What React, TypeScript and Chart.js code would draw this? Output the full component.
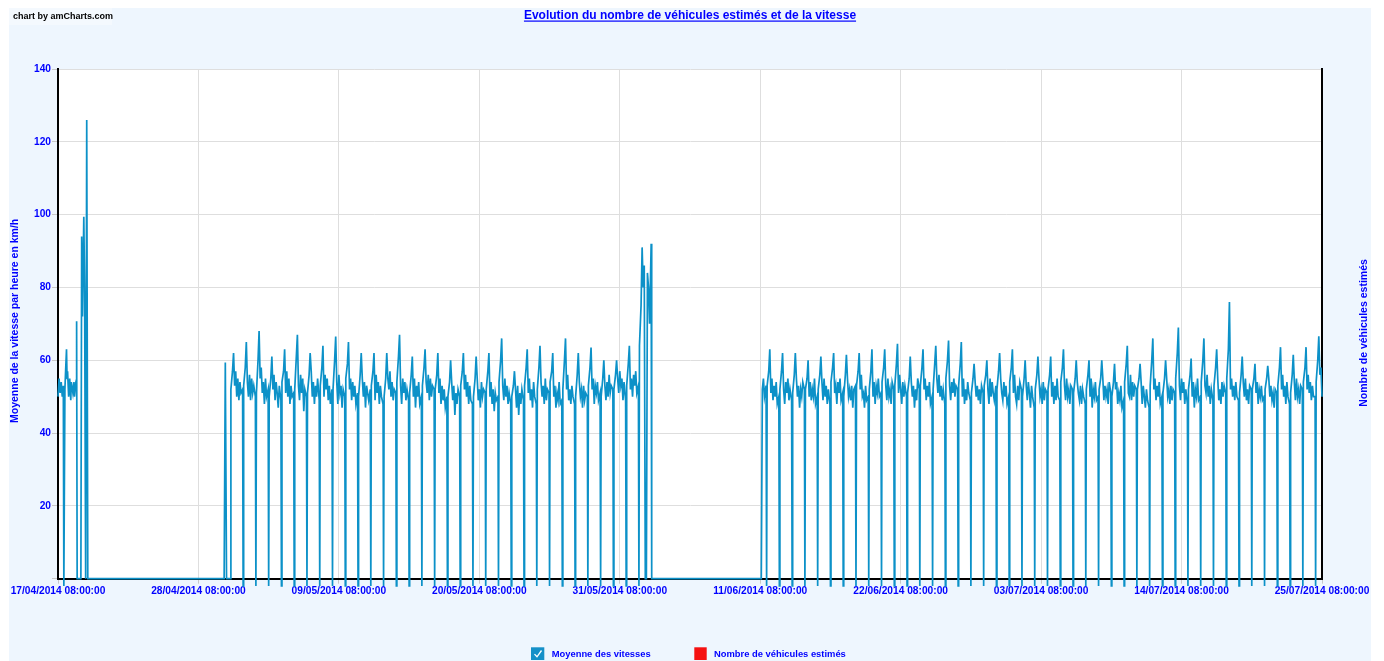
import React, { useEffect, useRef } from "react";
import { Chart, registerables } from "chart.js";

Chart.register(...registerables);

// ---------- DATA ----------
const chartTitle = "Evolution du nombre de véhicules estimés et de la vitesse";
const creditText = "chart by amCharts.com";
const leftAxisTitle = "Moyenne de la vitesse par heure en km/h";
const rightAxisTitle = "Nombre de véhicules estimés";
const seriesNames = ["Moyenne des vitesses", "Nombre de véhicules estimés"];

// x is hours since 17/04/2014 08:00:00
const xTickLabels = [
  "17/04/2014 08:00:00",
  "28/04/2014 08:00:00",
  "09/05/2014 08:00:00",
  "20/05/2014 08:00:00",
  "31/05/2014 08:00:00",
  "11/06/2014 08:00:00",
  "22/06/2014 08:00:00",
  "03/07/2014 08:00:00",
  "14/07/2014 08:00:00",
  "25/07/2014 08:00:00",
];
const xTickStepHours = 264;
const xMaxHours = 2376;
const yMax = 140;
const yStep = 20;

// first few days (irregular readings)
const seg1Hours = [0, 2, 4, 6, 8, 10, 11, 13, 14, 16, 17, 18, 20, 22, 24, 25, 28, 30, 31, 33, 34, 35, 36, 43, 44.5, 46, 48.5, 50, 52, 54, 56];
const seg1Speeds = [50, 55, 51, 54, 50, 53, -2, 52, 56, 63, 55, 57, 50, 55, 49, 54, 51, 54, 50, 53, 52, 70.7, 0, 0, 94, 72, 99.4, 80, 0, 126, 0];

// short spike before the second period
const seg2LeadHours = [312.3, 314.5, 316.8];
const seg2LeadSpeeds = [0, 59.4, 0];

// hour (from midnight-offset of each day index) of each reading in a day row
const dayOffsets = [12, 13, 16, 18, 20, 22, 24, 26, 28, 30, 32, 35];

const seg2FirstDay = 13;
const seg2Days = [
  [0, 52, 57, 62, 53, 57, 50, 55, 49, 54, 51, 52],
  [-2, 53, 58, 65, 54, 50, 56, 49, 55, 51, 53, 50],
  [-2, 51, 60, 68, 55, 58, 51, 54, 48, 55, 50, 52],
  [-2, 50, 55, 61, 52, 56, 49, 54, 51, 47, 53, 49],
  [-2, 54, 57, 63, 51, 57, 50, 55, 48, 53, 50, 51],
  [-2, 52, 61, 67, 53, 49, 56, 51, 55, 46, 52, 50],
  [-2, 51, 56, 62, 57, 50, 54, 48, 53, 50, 55, 49],
  [-2, 53, 58, 64, 50, 56, 52, 55, 49, 53, 48, 52],
  [-2, 52, 60, 66.5, 54, 48, 56, 51, 53, 47, 52, 50],
  [-2, 55, 59, 65, 52, 55, 49, 54, 50, 53, 48, 51],
  [-2, 50, 56, 62, 55, 50, 54, 47, 53, 51, 49, 52],
  [-2, 53, 57, 62, 49, 56, 51, 54, 48, 53, 50, 48],
  [-2, 50, 55, 62, 55, 52, 57, 50, 54, 49, 52, 51],
  [-2, 54, 61, 67, 53, 48, 55, 51, 54, 49, 52, 49],
  [-2, 51, 56, 61, 50, 55, 47, 53, 50, 54, 48, 50],
  [-2, 53, 58, 63, 54, 51, 56, 49, 55, 50, 53, 52],
  [-2, 52, 56, 62, 51, 55, 48, 53, 49, 52, 47, 50],
  [-2, 50, 54, 60, 54, 49, 53, 45, 51, 48, 52, 50],
  [-2, 53, 57, 62, 52, 56, 50, 54, 48, 53, 49, 48],
  [-2, 50, 55, 61, 55, 49, 52, 47, 54, 50, 52, 51],
  [-2, 52, 57, 62, 50, 54, 48, 52, 46, 51, 49, 50],
  [-2, 54, 60, 66, 53, 49, 55, 50, 53, 48, 51, 48],
  [-2, 50, 53, 57, 52, 47, 53, 45, 51, 48, 52, 49],
  [-2, 53, 58, 63, 51, 55, 49, 52, 47, 54, 50, 48],
  [-2, 52, 58, 64, 54, 50, 53, 48, 55, 49, 52, 51],
  [-2, 54, 57, 62, 50, 53, 47, 51, 49, 54, 48, 49],
  [-2, 52, 60, 66, 52, 56, 49, 52, 48, 53, 50, 48],
  [-2, 50, 56, 62, 54, 50, 52, 47, 53, 49, 51, 50],
  [-2, 53, 58, 63.5, 52, 55, 48, 53, 51, 54, 49, 51],
  [-2, 50, 55, 60, 53, 49, 54, 50, 56, 51, 53, 52],
  [-2, 52, 56, 60, 55, 51, 57, 53, 55, 49, 54, 49],
  [-2, 53, 59, 64, 52, 55, 50, 56, 53, 57, 51, 53],
  [-2, 64, 75, 91, 80, 86, 0, 0, 84, 80, 70, 92],
];
const seg2TailHours = [1116];
const seg2TailSpeeds = [0];

const seg3FirstDay = 54;
const seg3Days = [
  [0, 0, 0, 0, 0, 0, 0, 0, 52, 55, 50, 53],
  [-2, 53, 57, 63, 51, 55, 49, 53, 50, 54, 48, 50],
  [-2, 52, 57, 62, 52, 48, 54, 51, 55, 49, 52, 49],
  [-2, 51, 56, 62, 55, 50, 53, 47, 52, 50, 54, 52],
  [-2, 52, 55, 60, 50, 54, 49, 52, 50, 55, 48, 50],
  [-2, 52, 56, 61, 54, 49, 55, 50, 53, 48, 52, 48],
  [-2, 54, 58, 62, 51, 53, 48, 54, 51, 55, 49, 51],
  [-2, 50, 56, 61.5, 55, 50, 52, 49, 53, 47, 52, 53],
  [-2, 53, 57, 62, 52, 56, 50, 51, 47, 53, 49, 50],
  [-2, 52, 57, 63, 50, 54, 48, 53, 51, 55, 50, 51],
  [-2, 54, 58, 63, 53, 49, 55, 50, 52, 48, 54, 52],
  [-2, 53, 59, 64.5, 51, 56, 52, 48, 54, 50, 53, 50],
  [-2, 51, 55, 61, 54, 50, 53, 47, 52, 49, 55, 52],
  [-2, 53, 58, 63, 52, 55, 49, 53, 50, 54, 48, 50],
  [-2, 52, 59, 64, 55, 51, 56, 50, 53, 49, 52, 48],
  [-2, 55, 60, 65.4, 53, 49, 54, 51, 55, 50, 53, 52],
  [-2, 53, 59, 65, 50, 55, 48, 52, 49, 54, 51, 49],
  [-2, 51, 55, 59, 54, 50, 53, 49, 52, 48, 53, 51],
  [-2, 53, 56, 60, 52, 48, 55, 50, 54, 51, 49, 53],
  [-2, 52, 57, 62, 55, 51, 49, 54, 50, 53, 48, 50],
  [-2, 54, 58, 63, 51, 56, 50, 48, 53, 49, 54, 52],
  [-2, 50, 55, 60, 53, 49, 54, 51, 47, 53, 50, 47],
  [-2, 52, 56, 61, 55, 50, 52, 48, 54, 49, 52, 51],
  [-2, 52, 56, 61, 50, 54, 48, 53, 49, 55, 50, 49],
  [-2, 54, 58, 63, 53, 49, 55, 50, 52, 48, 53, 52],
  [-2, 51, 55, 60, 54, 51, 49, 53, 48, 52, 50, 48],
  [-2, 52, 56, 60, 50, 55, 47, 52, 50, 54, 49, 50],
  [-2, 52, 55, 60, 55, 49, 53, 50, 52, 48, 54, 51],
  [-2, 50, 54, 59, 52, 54, 48, 51, 49, 53, 47, 49],
  [-2, 54, 59, 64, 51, 50, 56, 49, 54, 50, 53, 52],
  [-2, 52, 55, 59, 54, 48, 53, 50, 47, 52, 49, 47],
  [-2, 53, 60, 66, 52, 55, 49, 53, 50, 54, 48, 50],
  [-2, 51, 55, 60, 55, 50, 52, 48, 53, 49, 52, 51],
  [-2, 55, 62, 69, 53, 49, 55, 51, 54, 48, 52, 48],
  [-2, 52, 56, 60.5, 50, 54, 47, 52, 50, 55, 49, 50],
  [-2, 54, 60, 66, 53, 51, 56, 50, 53, 48, 52, 49],
  [-2, 53, 58, 63, 55, 49, 52, 48, 54, 50, 53, 51],
  [-2, 55, 63, 76, 52, 55, 50, 53, 49, 54, 50, 49],
  [-2, 51, 56, 61, 54, 50, 55, 49, 52, 48, 53, 52],
  [-2, 52, 55, 59, 51, 54, 48, 52, 50, 53, 49, 50],
  [-2, 52, 55, 58.5, 55, 50, 53, 49, 51, 47, 52, 51],
  [-2, 53, 58, 63.6, 52, 56, 50, 53, 48, 54, 50, 48],
  [-2, 51, 56, 61.5, 54, 49, 55, 50, 52, 48, 53, 52],
  [-2, 54, 58, 63.6, 52, 56, 51, 54, 49, 53, 50, 50],
  [-2, 54, 60, 66.6, 56, 58, 50],
];

// second series (hidden, no values visible in the picture)
const vehicleCounts: { x: number; y: number }[] = [];

// ---------- STYLE ----------
const FONT = "'Liberation Sans', Arial, sans-serif";
const BLUE_TEXT = "#0000FF";
const LINE_COLOR = "#0C91C8";
const GRID = "#DEDEDE";
const BG = "#EEF6FE";
const W = 1362;
const H = 655;

function buildSpeedPoints() {
  const pts: { x: number; y: number }[] = [];
  seg1Hours.forEach((h, i) => pts.push({ x: h, y: seg1Speeds[i] }));
  seg2LeadHours.forEach((h, i) => pts.push({ x: h, y: seg2LeadSpeeds[i] }));
  seg2Days.forEach((row, d) =>
    row.forEach((v, k) => pts.push({ x: (seg2FirstDay + d) * 24 + dayOffsets[k], y: v }))
  );
  seg2TailHours.forEach((h, i) => pts.push({ x: h, y: seg2TailSpeeds[i] }));
  seg3Days.forEach((row, d) =>
    row.forEach((v, k) => pts.push({ x: (seg3FirstDay + d) * 24 + dayOffsets[k], y: v }))
  );
  return pts;
}

const decorPlugin = {
  id: "decor",
  beforeDraw(chart: any) {
    const { ctx, chartArea } = chart;
    ctx.save();
    ctx.fillStyle = "#FFFFFF";
    ctx.fillRect(chartArea.left, chartArea.top, chartArea.right - chartArea.left, chartArea.bottom - chartArea.top);
    ctx.restore();
  },
  afterDraw(chart: any) {
    const { ctx, chartArea } = chart;
    ctx.save();
    // credit
    ctx.fillStyle = "rgba(255,255,255,0.35)";
    ctx.fillRect(0, 0, 103, 19);
    ctx.fillStyle = "#000000";
    ctx.font = `bold 9px ${FONT}`;
    ctx.textAlign = "left";
    ctx.textBaseline = "middle";
    ctx.fillText(creditText, 4, 10.5);

    // title (underlined)
    ctx.fillStyle = BLUE_TEXT;
    ctx.font = `bold 12px ${FONT}`;
    ctx.textAlign = "center";
    ctx.textBaseline = "alphabetic";
    const tx = 681;
    ctx.fillText(chartTitle, tx, 13);
    const tw = ctx.measureText(chartTitle).width;
    ctx.fillRect(tx - tw / 2, 14.5, tw, 1.2);

    // axis titles
    ctx.font = `bold 10.5px ${FONT}`;
    ctx.textBaseline = "middle";
    ctx.save();
    ctx.translate(6, (chartArea.top + chartArea.bottom) / 2 - 3);
    ctx.rotate(-Math.PI / 2);
    ctx.fillText(leftAxisTitle, 0, 0);
    ctx.restore();
    ctx.save();
    ctx.translate(1355.5, 327);
    ctx.rotate(-Math.PI / 2);
    ctx.fillText(rightAxisTitle, 0, 0);
    ctx.restore();

    // legend
    const ly = 641.3;
    ctx.fillStyle = "#1590C8";
    ctx.fillRect(522, ly, 13.3, 12.7);
    ctx.strokeStyle = "#FFFFFF";
    ctx.lineWidth = 1.3;
    ctx.beginPath();
    ctx.moveTo(525.5, ly + 6.8);
    ctx.lineTo(528, ly + 9.5);
    ctx.lineTo(532.5, ly + 3.2);
    ctx.stroke();
    ctx.fillStyle = "#F51111";
    ctx.fillRect(685.3, ly, 12.4, 12.7);
    ctx.fillStyle = BLUE_TEXT;
    ctx.font = `bold 9.4px ${FONT}`;
    ctx.textAlign = "left";
    ctx.textBaseline = "middle";
    ctx.fillText(seriesNames[0], 542.7, 648);
    ctx.fillText(seriesNames[1], 705, 648);
    ctx.restore();
  },
};

export default function App() {
  const ref = useRef<HTMLCanvasElement | null>(null);
  useEffect(() => {
    if (!ref.current) return;
    const chart = new Chart(ref.current, {
      type: "line",
      data: {
        datasets: [
          {
            label: seriesNames[0],
            data: buildSpeedPoints(),
            borderColor: LINE_COLOR,
            backgroundColor: LINE_COLOR,
            borderWidth: 1.7,
            pointRadius: 0,
            tension: 0,
            clip: false as any,
            yAxisID: "y",
          },
          {
            label: seriesNames[1],
            data: vehicleCounts,
            borderColor: "#FF0000",
            backgroundColor: "#FF0000",
            borderWidth: 1.5,
            pointRadius: 0,
            hidden: true,
            yAxisID: "y1",
          },
        ],
      },
      options: {
        animation: false,
        responsive: false,
        devicePixelRatio: 1,
        parsing: false as any,
        normalized: true,
        layout: { padding: { top: 63, left: 0, right: 0, bottom: 0 } },
        plugins: {
          legend: { display: false },
          title: { display: false },
          tooltip: { enabled: false },
        },
        scales: {
          x: {
            type: "linear",
            min: 0,
            max: xMaxHours,
            afterFit: (s: any) => {
              s.height = 82.3;
            },
            afterBuildTicks: (s: any) => {
              s.ticks = xTickLabels.map((_, i) => ({ value: i * xTickStepHours }));
            },
            ticks: {
              autoSkip: false,
              maxRotation: 0,
              padding: 1.5,
              color: BLUE_TEXT,
              font: { family: FONT, size: 10.2, weight: "bold" },
              callback: (_v: any, i: number) => xTickLabels[i],
            },
            grid: { color: GRID, tickColor: "#C8C8C8", tickLength: 5, lineWidth: 1 },
            border: { display: true, color: "#000000", width: 2 },
          },
          y: {
            position: "left",
            min: 0,
            max: yMax,
            afterFit: (s: any) => {
              s.width = 49;
            },
            ticks: {
              stepSize: yStep,
              padding: 1,
              color: BLUE_TEXT,
              font: { family: FONT, size: 10.2, weight: "bold" },
              callback: (v: any) => (v === 0 ? "" : String(v)),
            },
            grid: { color: GRID, tickColor: "#C8C8C8", tickLength: 6, lineWidth: 1 },
            border: { display: true, color: "#000000", width: 2 },
          },
          y1: {
            position: "right",
            min: 0,
            max: 1,
            afterFit: (s: any) => {
              s.width = 49;
            },
            ticks: { display: false },
            grid: { display: false, drawOnChartArea: false },
            border: { display: true, color: "#000000", width: 2 },
          },
        },
      } as any,
      plugins: [decorPlugin],
    });
    return () => chart.destroy();
  }, []);

  return (
    <div
      style={{
        position: "relative",
        width: W,
        height: H,
        background: BG,
        marginTop: -2,
        marginLeft: 1,
      }}
    >
      <canvas ref={ref} width={W} height={H} style={{ display: "block" }} />
    </div>
  );
}
